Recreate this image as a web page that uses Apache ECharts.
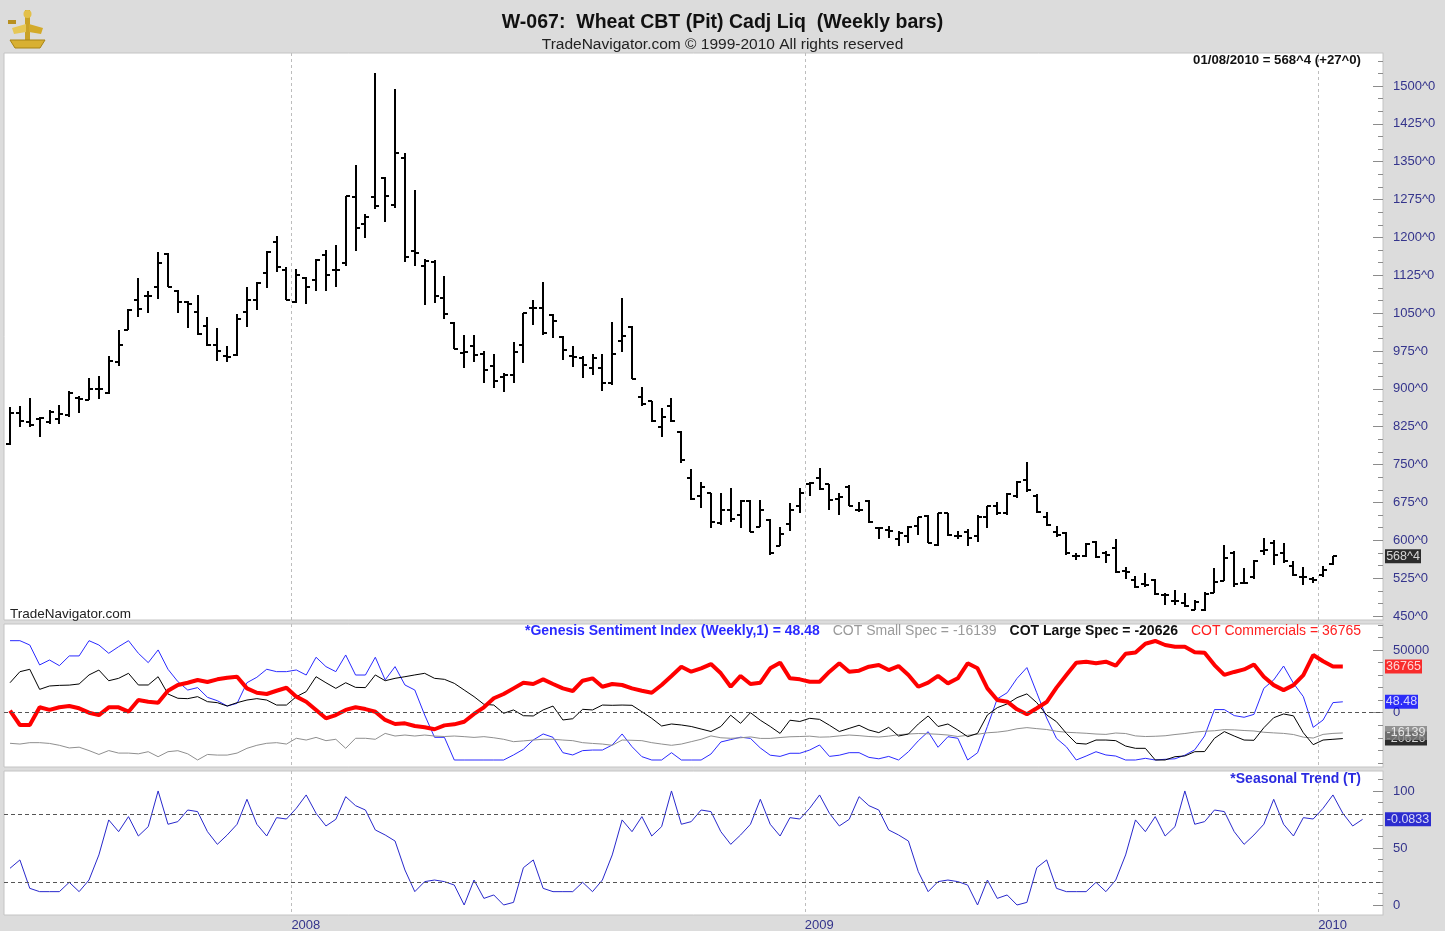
<!DOCTYPE html>
<html><head><meta charset="utf-8">
<script src="https://cdn.jsdelivr.net/npm/echarts@6/dist/echarts.min.js"></script>
<style>html,body{margin:0;padding:0;background:#dcdcdc;}#c{width:1445px;height:931px;}</style>
</head><body><div id="c"></div>
<script>
// ---------------- DATA ----------------
const firstWeek = '2007-06-15';           // first weekly bar (Friday)
const open = [790,853,835,840,835,840,848,881,878,900,
892,954,1017,1077,1084,1102,1168,1093,1073,1053,
1025,987,965,967,1053,1076,1130,1190,1136,1073,
1119,1116,1165,1136,1149,1281,1227,1281,1317,1264,
1357,1174,1143,1152,1081,1031,972,984,970,945,
923,928,987,1060,1060,1046,1002,965,961,941,
941,911,995,1023,883,875,825,866,815,723,
688,693,634,660,650,677,626,640,589,632,
667,712,723,712,681,705,661,677,624,621,
602,609,628,648,591,654,609,617,609,647,
668,654,688,720,688,647,617,614,568,568,
597,574,584,540,521,513,521,492,479,475,
462,461,496,520,575,516,527,578,594,574,
549,528,523,531,553];
const high = [865,867,881,844,858,869,896,885,922,926,
965,1017,1058,1119,1093,1172,1170,1095,1074,1086,
1043,1021,985,1048,1102,1112,1173,1202,1142,1137,
1122,1157,1176,1185,1282,1344,1246,1526,1320,1495,
1367,1293,1157,1155,1124,1033,1007,1007,976,970,
931,992,1050,1076,1112,1048,1004,985,965,970,
969,1032,1081,1024,904,875,862,881,817,741,
716,694,694,703,680,680,679,642,626,673,
703,716,743,712,693,710,675,680,626,628,
619,628,647,650,655,655,619,622,650,668,
675,693,717,755,692,657,628,617,574,595,
599,578,602,548,529,535,523,495,502,495,
482,498,545,591,578,545,560,604,601,594,
558,548,528,549,569];
const low = [789,825,825,805,830,830,845,852,877,879,
890,945,1017,1042,1050,1079,1101,1051,1020,1007,
985,955,953,965,1022,1056,1099,1132,1076,1071,
1069,1093,1093,1101,1143,1174,1198,1256,1231,1258,
1152,1143,1066,1071,1038,978,941,954,912,901,
893,911,951,1027,1007,1000,957,944,921,928,
895,908,974,920,866,835,805,835,753,679,
663,624,630,637,624,617,626,571,588,619,
654,687,700,661,650,667,657,635,602,604,
588,594,611,594,589,609,602,589,597,624,
650,650,683,695,655,629,606,571,560,566,
564,556,536,523,505,508,492,472,472,467,
461,459,495,520,508,515,523,571,551,556,
529,512,515,528,551];
const close = [853,837,828,842,855,850,891,880,899,900,
955,986,1056,1058,1084,1150,1101,1073,1068,1009,
987,976,964,1038,1077,1110,1172,1141,1077,1126,
1101,1155,1126,1136,1282,1218,1241,1262,1282,1368,
1162,1169,1153,1083,1048,978,974,967,937,916,
928,974,1050,1060,1010,1035,977,964,947,961,
911,969,1005,920,871,837,844,837,759,681,
705,637,660,642,677,617,661,574,613,661,
693,713,701,680,685,668,660,637,624,618,
614,626,646,595,654,611,609,604,646,668,
654,692,716,700,657,631,611,574,568,593,
566,571,538,538,507,511,494,492,479,469,
478,494,518,565,514,516,558,580,571,558,
531,528,521,541.5,568.5];

const cotCommercials = [1600,-9800,-9800,4300,2200,4300,5300,3500,0,-1900,
4300,4300,800,10100,8800,8000,17500,22100,23900,26100,
24500,26600,27900,28700,19400,15900,14900,17500,19900,12800,
8800,2200,-4500,-1900,2200,4300,2900,800,-5800,-9000,
-8500,-10600,-11600,-13200,-10100,-9300,-7200,-1000,4300,11500,
14900,19400,23900,22900,26600,22900,19400,17300,25500,27400,
20700,22900,22100,19400,17500,15900,22100,29300,36700,32700,
35400,38800,31400,20700,29300,22900,23900,35400,39900,27400,
26600,24700,24700,32700,39400,32700,33500,36700,38000,34000,
37200,30100,20700,24000,29300,23400,27400,39400,35400,19400,
10100,8800,2700,-1300,3500,8500,20000,30000,39900,40700,
39400,40700,37500,47000,48000,55000,57200,54000,52600,52600,
48200,47800,38000,30100,32500,34500,38500,28700,22000,18000,
22000,30000,46000,41000,36800,36765];
const cotLargeSpec = [23900,32700,34600,18600,21300,21800,22000,22900,30100,34000,
25500,27400,31400,22100,22100,28700,14900,11500,11200,12800,
8800,8000,5300,8000,10100,11200,10100,6100,6100,12800,
16800,28700,23900,19400,23900,20200,20000,30100,25500,27400,
28700,30100,31400,27400,26600,23400,18100,12800,6700,6100,
-500,2200,-2400,-2600,2200,5300,-5800,-4800,2700,2200,
6100,5900,6100,5900,800,-4500,-10600,-9000,-9800,-11000,
-13000,-15000,-11000,-2000,-8500,0,-6000,-11000,-16500,-6000,
-7000,-4500,-5300,-10000,-15000,-12500,-10000,-13800,-15900,-11700,
-18600,-17000,-9000,-2600,-11000,-9000,-13800,-19100,-16500,-1800,
4000,7000,12000,15000,8000,-1800,-7200,-16500,-24400,-25000,
-21800,-21800,-22300,-26600,-28400,-28400,-37700,-37700,-35100,-34500,
-31100,-31000,-20400,-15100,-18600,-21800,-22000,-12000,-4000,-1000,
-2500,-16000,-25500,-21800,-21200,-20626];
const cotSmallSpec = [-24400,-25000,-23900,-23900,-24500,-26000,-28100,-27500,-30200,-33300,
-30200,-32200,-32200,-32800,-31100,-35100,-31100,-30300,-32800,-37700,
-33300,-33800,-33800,-32200,-28400,-26000,-24400,-23900,-25000,-20400,
-21800,-19700,-22300,-21200,-28400,-20400,-20400,-21200,-16500,-18600,
-17800,-18600,-17800,-18600,-19000,-18600,-19100,-19700,-19100,-20000,
-21200,-23100,-22500,-21800,-21200,-21200,-21800,-22300,-23900,-24500,
-25000,-26000,-21800,-22000,-22300,-23900,-25000,-26000,-25000,-23100,
-21200,-18500,-20000,-20400,-20000,-19300,-20500,-20500,-19800,-19200,
-19000,-18700,-19500,-19300,-18500,-17800,-18300,-19000,-19400,-18700,
-17500,-17000,-16600,-16800,-17200,-17800,-19000,-18000,-17200,-16000,
-15500,-14500,-12800,-11900,-12700,-13400,-14800,-15600,-16000,-16400,
-17000,-17300,-16200,-16600,-18500,-19000,-18800,-18400,-17400,-16600,
-15500,-14800,-14400,-13500,-13700,-14200,-14600,-15600,-16100,-16500,
-17400,-19500,-20200,-17300,-16500,-16139];
const genesisSentiment = [99.4,99.4,95.8,79.2,83.3,78.6,86.7,86.7,99.4,95.8,
88.9,94.4,99.4,88.9,81.1,91.7,75.6,65.3,58.3,60.3,
52.2,49.4,45.0,47.2,64.4,68.9,75.6,73.6,73.6,75.0,
70.8,85.6,77.8,73.6,87.5,70.8,70.8,85.6,66.7,77.8,
62.5,58.3,37.5,18.9,18.9,0,0,0,0,0,
0,4.2,8.9,16.7,21.7,18.9,6.1,4.2,7.8,8.3,
8.3,12.5,21.7,11.1,2.8,0,0,6.1,0,0,
0,5,15,17,19,18,10,4,3,5.6,
5.6,8.3,12.5,3,4,6.1,6.1,2.2,1,3,
0,6.9,16,23.6,10.6,19.4,18.1,0,6,28,
51,56,68,77,56,35,18,11,0,3.3,
6.9,4.2,3.3,0,0,1.4,0,0.6,1,4,
8.5,20,42,42,37,35.6,38,59.7,66.7,78.3,
63.9,52.8,27.2,33.3,47.8,48.48];
const seasonalTrend = [32.2,39.5,14.6,11.7,11.7,11.7,19.9,11.7,21.9,43.9,
74.6,64.3,77.5,60.5,68.7,100,70.8,73.1,83.3,81.9,
64.3,53.2,61.4,70.8,92.7,70.8,60.5,76.6,75.4,84.8,
96.5,80.4,69.3,75.1,95.0,87.1,83.3,65.8,61.4,56.1,
30.7,11.7,20.5,21.9,20.5,17.5,0,21.9,5.8,8.8,
0,2.3,32.7,39.5,14.6,11.7,11.7,11.7,19.9,11.7,
21.9,43.9,74.6,64.3,77.5,60.5,68.7,100,70.8,73.1,
83.3,81.9,64.3,53.2,61.4,70.8,92.7,70.8,60.5,76.6,
75.4,84.8,96.5,80.4,69.3,75.1,95.0,87.1,83.3,65.8,
61.4,56.1,29.2,11.7,20.5,21.9,20.5,17.5,0,21.9,
5.8,8.8,0,2.3,32.7,39.5,14.6,11.7,11.7,11.7,
19.9,11.7,21.9,43.9,74.6,64.3,77.5,60.5,68.7,100,
70.8,73.1,83.3,81.9,64.3,53.2,61.4,70.8,92.7,70.8,
60.5,76.6,75.4,84.8,96.5,80.4,69.3,75.1];
const seasonalReadout = '-0.0833';

const priceTicks = [450,525,600,675,750,825,900,975,1050,1125,1200,1275,1350,1425,1500];
const priceMinorStep = 25;
const cotTicks = [0, 50000];
const cotMinorStep = 10000;
const seasonalTicks = [0, 50, 100];
const seasonalMinorStep = 10;
const seasonalBands = [20, 80];
const mainTitle = 'W-067:  Wheat CBT (Pit) Cadj Liq  (Weekly bars)';
const subTitle = 'TradeNavigator.com \u00a9 1999-2010 All rights reserved';
const watermark = 'TradeNavigator.com';
const seasonalName = '*Seasonal Trend (T)';

// ---------------- LAYOUT / HELPERS ----------------
const FONT = '"Liberation Sans", Arial, Helvetica, sans-serif';
const AXIS_BLUE = '#34348c';
const X_MIN = -0.61, X_MAX = 139.07;
const P_MIN = 442.1, P_MAX = 1565.4;
const COT_MIN = -43300, COT_MAX = 70730;
const GEN_MIN = -5.83, GEN_MAX = 113.3;
const SEA_MIN = -8.77, SEA_MAX = 117.5;

function eighths(v) {
  const s = v < 0 ? '-' : '';
  v = Math.abs(v);
  const w = Math.floor(v + 1e-9);
  return s + w + '^' + Math.round((v - w) * 8);
}
const N = Math.max(close.length, cotCommercials.length, seasonalTrend.length);
const t0 = Date.parse(firstWeek + 'T00:00:00Z');
const weeks = [];
for (let i = 0; i < N; i++) weeks.push(new Date(t0 + i * 7 * 86400000));
const yearMarks = [], yearNames = {};
for (let i = 1; i < N; i++) {
  const y = weeks[i].getUTCFullYear();
  if (y !== weeks[i - 1].getUTCFullYear()) { yearMarks.push(i - 0.5); yearNames[String(i - 0.5)] = String(y); }
}
function minors(min, max, step, majors) {
  const out = [];
  for (let v = Math.ceil(min / step) * step; v <= max; v += step) if (majors.indexOf(v) < 0) out.push(v);
  return out;
}
const last = close.length - 1;
const lastDate = weeks[last];
const pad2 = n => (n < 10 ? '0' : '') + n;
const chg = close[last] - close[last - 1];
const quoteText = pad2(lastDate.getUTCMonth() + 1) + '/' + pad2(lastDate.getUTCDate()) + '/' + lastDate.getUTCFullYear() +
  ' = ' + eighths(close[last]) + ' (' + (chg >= 0 ? '+' : '') + eighths(chg) + ')';
const lastOf = a => a[a.length - 1];

const TICK_COLOR = '#8c8c8c';
function xAxisFor(g) {
  return {
    type: 'value', gridIndex: g, min: X_MIN, max: X_MAX, position: 'bottom',
    axisLine: { show: false, onZero: false },
    axisTick: { show: false, customValues: yearMarks },
    axisLabel: { show: g === 2, customValues: yearMarks, formatter: v => yearNames[String(v)] || '',
      align: 'left', color: AXIS_BLUE, fontSize: 13, fontFamily: FONT, margin: 4 },
    splitLine: { show: true, lineStyle: { color: '#bdbdbd', type: [3, 3], width: 1 } }
  };
}
function majorY(g, min, max, ticks, fmt) {
  return {
    type: 'value', gridIndex: g, position: 'right', min: min, max: max,
    axisLine: { show: true, onZero: false, lineStyle: { color: '#cfcfcf', width: 1 } },
    axisTick: { show: true, inside: true, length: 10, customValues: ticks, lineStyle: { color: TICK_COLOR } },
    axisLabel: { show: true, customValues: ticks, formatter: fmt, color: AXIS_BLUE, fontSize: 13, fontFamily: FONT, margin: 10 },
    splitLine: { show: false }
  };
}
function minorY(g, min, max, ticks) {
  return {
    type: 'value', gridIndex: g, position: 'right', min: min, max: max,
    axisLine: { show: false, onZero: false },
    axisTick: { show: true, inside: true, length: 5, customValues: ticks, lineStyle: { color: TICK_COLOR } },
    axisLabel: { show: false }, splitLine: { show: false }
  };
}
function valueBox(xi, yi, val, text, bg, w, z) {
  return {
    type: 'scatter', xAxisIndex: xi, yAxisIndex: yi, clip: false, silent: true, z: z || 5,
    data: [[X_MAX, val]], symbol: 'rect', symbolSize: [w, 14], symbolOffset: [w / 2 + 2, 0],
    itemStyle: { color: bg },
    label: { show: true, position: 'inside', formatter: () => text, color: '#fff', fontSize: 12.5, fontFamily: FONT }
  };
}
const pairs = a => a.map((v, i) => [i, v]);

const gridCommon = { left: 4, right: 62, show: true, backgroundColor: '#ffffff', borderColor: '#c4c4c4', borderWidth: 1, containLabel: false, outerBoundsMode: 'none' };

const option = {
  animation: false,
  backgroundColor: '#dcdcdc',
  textStyle: { fontFamily: FONT },
  title: [
    { text: mainTitle, left: 'center', top: 8, textStyle: { fontSize: 19.5, fontWeight: 'bold', color: '#111', fontFamily: FONT } },
    { text: subTitle, left: 'center', top: 32, textStyle: { fontSize: 15.5, fontWeight: 'normal', color: '#222', fontFamily: FONT } },
    { text: quoteText, right: 79, top: 49, textStyle: { fontSize: 13.2, fontWeight: 'bold', color: '#111', fontFamily: FONT } },
    { text: watermark, left: 5, top: 602, textStyle: { fontSize: 13.5, fontWeight: 'normal', color: '#222', fontFamily: FONT } },
    { text: '{g|*Genesis Sentiment Index (Weekly,1) = ' + lastOf(genesisSentiment).toFixed(2) + '}{sp|}{s|COT Small Spec = ' + lastOf(cotSmallSpec) +
        '}{sp|}{l|COT Large Spec = ' + lastOf(cotLargeSpec) + '}{sp|}{c|COT Commercials = ' + lastOf(cotCommercials) + '}',
      right: 79, top: 619,
      textStyle: { fontSize: 14, fontFamily: FONT, rich: {
        g: { color: '#2a2aff', fontWeight: 'bold', fontSize: 14, fontFamily: FONT },
        sp: { width: 13 },
        s: { color: '#9a9a9a', fontWeight: 'normal', fontSize: 14, fontFamily: FONT },
        l: { color: '#111', fontWeight: 'bold', fontSize: 14, fontFamily: FONT },
        c: { color: '#ff2020', fontWeight: 'normal', fontSize: 14, fontFamily: FONT } } } },
    { text: seasonalName, right: 79, top: 767, textStyle: { fontSize: 14, fontWeight: 'bold', color: '#2a2ae0', fontFamily: FONT } }
  ],
  grid: [
    Object.assign({ top: 53, height: 567 }, gridCommon),
    Object.assign({ top: 624, height: 143 }, gridCommon),
    Object.assign({ top: 771, height: 144 }, gridCommon)
  ],
  xAxis: [xAxisFor(0), xAxisFor(1), xAxisFor(2)],
  yAxis: [
    majorY(0, P_MIN, P_MAX, priceTicks, v => v + '^0'),
    minorY(0, P_MIN, P_MAX, minors(P_MIN, P_MAX, priceMinorStep, priceTicks)),
    majorY(1, COT_MIN, COT_MAX, cotTicks, v => String(v)),
    minorY(1, COT_MIN, COT_MAX, minors(COT_MIN, COT_MAX, cotMinorStep, cotTicks)),
    { type: 'value', gridIndex: 1, position: 'right', min: GEN_MIN, max: GEN_MAX, show: false, axisLine: { onZero: false } },
    majorY(2, SEA_MIN, SEA_MAX, seasonalTicks, v => String(v)),
    minorY(2, SEA_MIN, SEA_MAX, minors(SEA_MIN, SEA_MAX, seasonalMinorStep, seasonalTicks))
  ],
  graphic: [{
    type: 'group', left: 8, top: 10, z: 100,
    children: [
      { type: 'rect', shape: { x: 17, y: 0, width: 5, height: 36 }, style: { fill: '#c9a227' } },
      { type: 'circle', shape: { cx: 19.5, cy: 4, r: 4 }, style: { fill: '#e3c04a' } },
      { type: 'polygon', shape: { points: [[2, 30], [37, 30], [32, 38], [7, 38]] }, style: { fill: '#d8b032', stroke: '#a88416', lineWidth: 1 } },
      { type: 'polygon', shape: { points: [[4, 18], [18, 14], [18, 22], [6, 24]] }, style: { fill: '#e6c756' } },
      { type: 'polygon', shape: { points: [[21, 14], [35, 18], [33, 24], [21, 22]] }, style: { fill: '#d3aa2a' } },
      { type: 'rect', shape: { x: 0, y: 10, width: 8, height: 4 }, style: { fill: '#b89020' } }
    ]
  }],
  series: [
    {
      type: 'custom', name: 'Wheat', xAxisIndex: 0, yAxisIndex: 0, clip: true,
      data: close.map((c, i) => [i, open[i], high[i], low[i], c]),
      encode: { x: 0, y: [1, 2, 3, 4] },
      renderItem: function (params, api) {
        const i = api.value(0);
        const o = api.coord([i, api.value(1)]);
        const h = api.coord([i, api.value(2)]);
        const l = api.coord([i, api.value(3)]);
        const c = api.coord([i, api.value(4)]);
        const x = Math.round(h[0]);
        const st = { stroke: '#000', lineWidth: 2 };
        const oy = Math.round(o[1]), cy = Math.round(c[1]);
        return { type: 'group', children: [
          { type: 'line', shape: { x1: x, y1: Math.round(h[1]), x2: x, y2: Math.round(l[1]) }, style: st },
          { type: 'line', shape: { x1: x - 4, y1: oy, x2: x, y2: oy }, style: st },
          { type: 'line', shape: { x1: x, y1: cy, x2: x + 4, y2: cy }, style: st }
        ] };
      }
    },
    valueBox(0, 0, close[last], eighths(close[last]), '#000', 36, 6),

    { type: 'line', name: 'Genesis', xAxisIndex: 1, yAxisIndex: 4, data: pairs(genesisSentiment), showSymbol: false, symbol: 'none',
      lineStyle: { color: '#2a2aff', width: 1 }, z: 2 },
    { type: 'line', name: 'COT Small Spec', xAxisIndex: 1, yAxisIndex: 2, data: pairs(cotSmallSpec), showSymbol: false, symbol: 'none',
      lineStyle: { color: '#8f8f8f', width: 1 }, z: 2 },
    { type: 'line', name: 'COT Large Spec', xAxisIndex: 1, yAxisIndex: 2, data: pairs(cotLargeSpec), showSymbol: false, symbol: 'none',
      lineStyle: { color: '#000', width: 1 }, z: 2 },
    { type: 'line', name: 'COT Commercials', xAxisIndex: 1, yAxisIndex: 2, data: pairs(cotCommercials), showSymbol: false, symbol: 'none',
      lineStyle: { color: '#ff0000', width: 4 }, z: 3,
      markLine: { silent: true, symbol: 'none', label: { show: false }, lineStyle: { color: '#555', type: [4, 3], width: 1 },
        data: [{ yAxis: 0 }] } },
    valueBox(1, 2, lastOf(cotCommercials), String(lastOf(cotCommercials)), '#ff0000', 37, 6),
    valueBox(1, 4, lastOf(genesisSentiment), lastOf(genesisSentiment).toFixed(2), '#0000ff', 33, 7),
    valueBox(1, 2, lastOf(cotLargeSpec), String(lastOf(cotLargeSpec)), '#000', 42, 8),
    valueBox(1, 2, lastOf(cotSmallSpec), String(lastOf(cotSmallSpec)), '#808080', 42, 9),

    { type: 'line', name: 'Seasonal Trend', xAxisIndex: 2, yAxisIndex: 5, data: pairs(seasonalTrend), showSymbol: false, symbol: 'none',
      lineStyle: { color: '#2828cc', width: 1 }, z: 3,
      markLine: { silent: true, symbol: 'none', label: { show: false }, lineStyle: { color: '#555', type: [4, 3], width: 1 },
        data: seasonalBands.map(v => ({ yAxis: v })) } },
    valueBox(2, 5, lastOf(seasonalTrend), seasonalReadout, '#0000cc', 46, 6)
  ]
};
const chart = echarts.init(document.getElementById('c'), null, { renderer: 'canvas', width: 1445, height: 931 });
chart.setOption(option);
</script></body></html>
